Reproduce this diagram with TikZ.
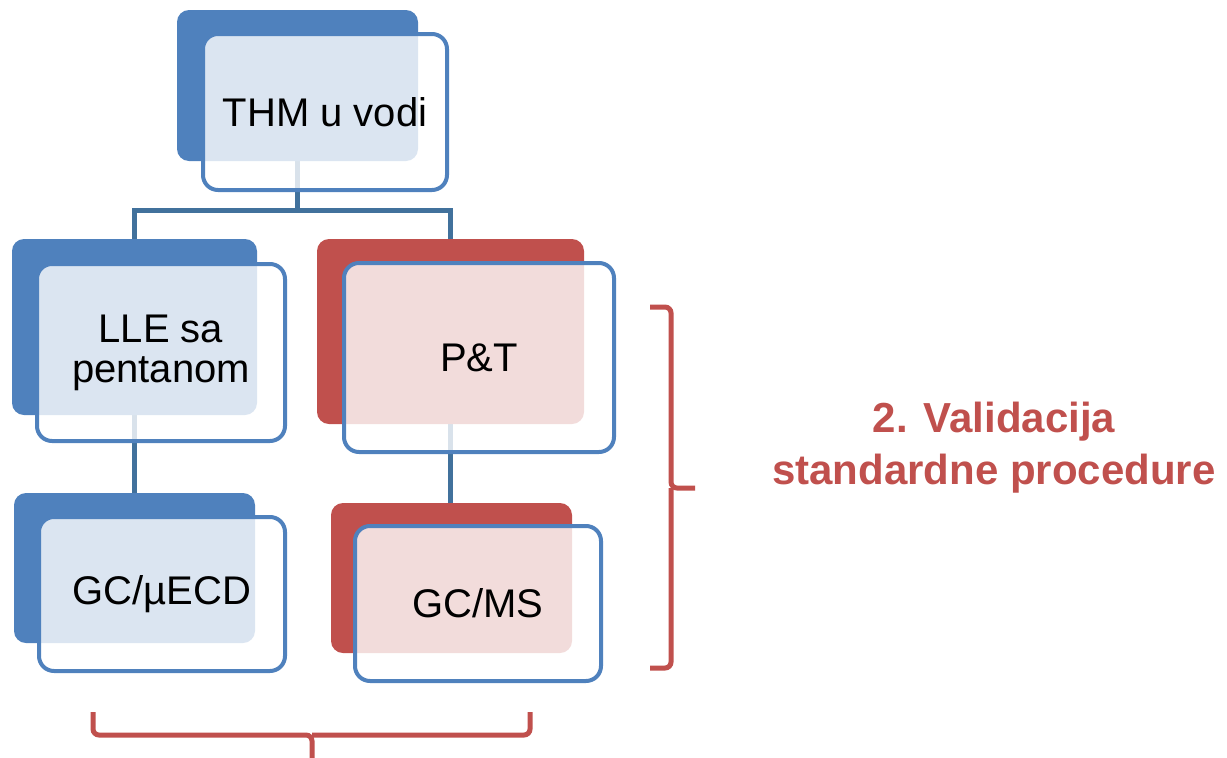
\documentclass[tikz,border=0pt]{standalone}
\usepackage{fontspec}
\setmainfont{Liberation Sans}
\usetikzlibrary{calc,backgrounds}

\definecolor{cardblue}{HTML}{4F81BD}
\definecolor{cardred}{HTML}{C0504D}
\definecolor{linkblue}{HTML}{41719C}

\tikzset{
	backcard/.style={rounded corners=12pt, fill=#1, inner sep=0pt},
	frontcard/.style={rounded corners=15pt, draw=cardblue, line width=4pt, fill=white, fill opacity=0.8, text opacity=1,
		inner sep=0pt, align=center, font=\fontsize{40}{40}\selectfont},
	link/.style={draw=linkblue, line width=5pt},
	bracket/.style={draw=cardred, line width=5pt, rounded corners=6pt}
}

\begin{document}
\begin{tikzpicture}[x=1pt,y=-1pt]
		\useasboundingbox (0,0) rectangle (1227,758);
		\node[backcard=cardblue, minimum width=241pt, minimum height=151pt] (thmb) at (297.5,85.5) {};
		\node[backcard=cardblue, minimum width=245pt, minimum height=176pt] (lleb) at (134.5,327) {};
		\node[backcard=cardred, minimum width=267pt, minimum height=185pt] (ptb) at (450.5,331.5) {};
		\node[backcard=cardblue, minimum width=241pt, minimum height=150pt] (ecdb) at (134.5,568) {};
		\node[backcard=cardred, minimum width=241pt, minimum height=150pt] (msb) at (451.5,578) {};
		\node[frontcard, minimum width=244pt, minimum height=156pt] (thm) at (325,112) {THM u vodi};
		\node[frontcard, minimum width=248pt, minimum height=177pt] (lle) at (161,352.5) {LLE sa\\pentanom};
		\node[frontcard, minimum width=270pt, minimum height=189pt] (pt) at (479,357.5) {P\&T};
		\node[frontcard, minimum width=246pt, minimum height=154pt] (ecd) at (162,594) {GC/µECD};
		\node[frontcard, minimum width=246pt, minimum height=155pt] (ms) at (478,603.5) {GC/MS};
		\begin{scope}[on background layer]
			\coordinate (split) at ($(thmb.south)+(0,49)$);
			\draw[link] (thmb.center) -- (split) -| (lleb.center);
			\draw[link] (split) -| (ptb.center);
			\draw[link] (lleb.center) -- (ecdb.center);
			\draw[link] (ptb.center) -- (ptb.center |- msb.center);
		\end{scope}
		\draw[bracket] (650,307) -| (671,488) -- (695,488);
		\draw[bracket] (650,668) -| (671,488);
		\draw[bracket] (93,712) |- (312,735) -- (312,765);
		\draw[bracket] (530,712) |- (312,735);
		\node[text=cardred, font=\bfseries\fontsize{42}{52}\selectfont, align=center] (valid) at (994,448) {2. Validacija\\standardne procedure};
	\end{tikzpicture}
\end{document}
